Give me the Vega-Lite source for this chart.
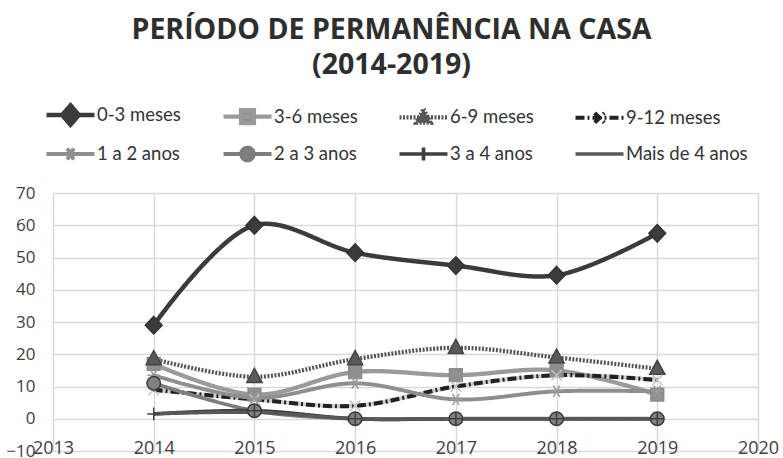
{
  "$schema": "https://vega.github.io/schema/vega-lite/v6.json",
  "width": 705,
  "height": 258,
  "autosize": {"type": "none"},
  "padding": {"left": 53, "top": 193, "right": 25, "bottom": 7},
  "background": "#ffffff",
  "title": {
    "text": ["PERÍODO DE PERMANÊNCIA NA CASA", "(2014-2019)"],
    "font": "Open Sans",
    "fontSize": 28.5,
    "fontWeight": "bold",
    "color": "#2e2e2e",
    "lineHeight": 35,
    "anchor": "middle",
    "frame": "group",
    "dx": -14,
    "offset": 25
  },
  "config": {
    "view": {"stroke": null},
    "axis": {"labelFont": "Open Sans", "labelColor": "#404040", "gridColor": "#d9d9d9", "gridWidth": 1.5}
  },
  "data": {
    "values": [
      {"series": "0-3 meses", "year": 2014, "value": 29},
      {"series": "0-3 meses", "year": 2015, "value": 60},
      {"series": "0-3 meses", "year": 2016, "value": 51.5},
      {"series": "0-3 meses", "year": 2017, "value": 47.5},
      {"series": "0-3 meses", "year": 2018, "value": 44.5},
      {"series": "0-3 meses", "year": 2019, "value": 57.5},
      {"series": "3-6 meses", "year": 2014, "value": 17},
      {"series": "3-6 meses", "year": 2015, "value": 7.5},
      {"series": "3-6 meses", "year": 2016, "value": 14.5},
      {"series": "3-6 meses", "year": 2017, "value": 13.5},
      {"series": "3-6 meses", "year": 2018, "value": 15},
      {"series": "3-6 meses", "year": 2019, "value": 7.5},
      {"series": "6-9 meses", "year": 2014, "value": 18.5},
      {"series": "6-9 meses", "year": 2015, "value": 13},
      {"series": "6-9 meses", "year": 2016, "value": 18.5},
      {"series": "6-9 meses", "year": 2017, "value": 22},
      {"series": "6-9 meses", "year": 2018, "value": 19},
      {"series": "6-9 meses", "year": 2019, "value": 15.5},
      {"series": "9-12 meses", "year": 2014, "value": 9},
      {"series": "9-12 meses", "year": 2015, "value": 6},
      {"series": "9-12 meses", "year": 2016, "value": 4},
      {"series": "9-12 meses", "year": 2017, "value": 10},
      {"series": "9-12 meses", "year": 2018, "value": 13.5},
      {"series": "9-12 meses", "year": 2019, "value": 12},
      {"series": "1 a 2 anos", "year": 2014, "value": 13.5},
      {"series": "1 a 2 anos", "year": 2015, "value": 6.5},
      {"series": "1 a 2 anos", "year": 2016, "value": 11},
      {"series": "1 a 2 anos", "year": 2017, "value": 6},
      {"series": "1 a 2 anos", "year": 2018, "value": 8.5},
      {"series": "1 a 2 anos", "year": 2019, "value": 8.5},
      {"series": "2 a 3 anos", "year": 2014, "value": 11},
      {"series": "2 a 3 anos", "year": 2015, "value": 2.5},
      {"series": "2 a 3 anos", "year": 2016, "value": 0},
      {"series": "2 a 3 anos", "year": 2017, "value": 0},
      {"series": "2 a 3 anos", "year": 2018, "value": 0},
      {"series": "2 a 3 anos", "year": 2019, "value": 0},
      {"series": "3 a 4 anos", "year": 2014, "value": 1.5},
      {"series": "3 a 4 anos", "year": 2015, "value": 2.5},
      {"series": "3 a 4 anos", "year": 2016, "value": 0},
      {"series": "3 a 4 anos", "year": 2017, "value": 0},
      {"series": "3 a 4 anos", "year": 2018, "value": 0},
      {"series": "3 a 4 anos", "year": 2019, "value": 0},
      {"series": "Mais de 4 anos", "year": 2014, "value": 1.5},
      {"series": "Mais de 4 anos", "year": 2015, "value": 2},
      {"series": "Mais de 4 anos", "year": 2016, "value": 0},
      {"series": "Mais de 4 anos", "year": 2017, "value": 0},
      {"series": "Mais de 4 anos", "year": 2018, "value": 0},
      {"series": "Mais de 4 anos", "year": 2019, "value": 0}
    ]
  },
  "encoding": {
    "x": {
      "field": "year", "type": "quantitative",
      "scale": {"domain": [2013, 2020], "nice": false, "zero": false},
      "axis": {
        "title": null, "values": [2013, 2014, 2015, 2016, 2017, 2018, 2019, 2020],
        "format": "d", "grid": true, "domain": false, "ticks": false, "tickSize": 0,
        "labelFontSize": 18, "labelPadding": 20, "offset": -32, "labelFlush": false
      }
    },
    "y": {
      "field": "value", "type": "quantitative",
      "scale": {"domain": [-10, 70], "nice": false},
      "axis": {
        "title": null, "values": [-10, 0, 10, 20, 30, 40, 50, 60, 70],
        "grid": true, "domain": false, "ticks": false, "tickSize": 0,
        "labelFontSize": 17, "labelPadding": 18
      }
    }
  },
  "layer": [
    {
      "transform": [{"filter": "datum.series === '9-12 meses'"}],
      "mark": {"type": "line", "interpolate": "catmull-rom", "stroke": "#cfcfcf", "strokeWidth": 4},
      "encoding": {"detail": {"field": "series"}}
    },
    {
      "mark": {"type": "line", "interpolate": "catmull-rom"},
      "encoding": {
        "color": {
          "field": "series", "type": "nominal",
          "scale": {
            "domain": ["0-3 meses", "3-6 meses", "6-9 meses", "9-12 meses", "1 a 2 anos", "2 a 3 anos", "3 a 4 anos", "Mais de 4 anos"],
            "range": ["#3b3b3b", "#9a9a9a", "#555555", "#222222", "#8e8e8e", "#7d7d7d", "#3e3e3e", "#585858"]
          },
          "legend": {
            "title": null,
            "orient": "none",
            "legendX": -9,
            "legendY": -89,
            "direction": "horizontal",
            "columns": 4,
            "columnPadding": 33,
            "rowPadding": 6,
            "symbolSize": 256,
            "labelOffset": 32,
            "labelFont": "Lato",
            "labelFontSize": 18.5,
            "labelColor": "#333333",
            "encode": {
              "symbols": {
                "update": {
                  "shape": {"signal": "['M-1,0H5M2,-1.2L3.05,0L2,1.2L0.95,0Z','M-1,0H5M1.2,-0.8H2.8V0.8H1.2Z','M-1,0H5M2,-1.05L2.9,0.65H1.1Z','M-1,0H5M1.4,-0.6L2.6,0.6M1.4,0.6L2.6,-0.6','M-1,0H5M1.6,-0.7L2.4,0.7M1.6,0.7L2.4,-0.7','M-1,0H5M1.2,0A0.8,0.8,0,1,0,2.8,0A0.8,0.8,0,1,0,1.2,0Z','M-1,0H5M2,-0.8V0.8','M-1,0H5'][indexof(['0-3 meses','3-6 meses','6-9 meses','9-12 meses','1 a 2 anos','2 a 3 anos','3 a 4 anos','Mais de 4 anos'], datum.value)]"},
                  "fill": {"signal": "['#3b3b3b','#8f8f8f','#5a5a5a','transparent','transparent','#808080','transparent','transparent'][indexof(['0-3 meses','3-6 meses','6-9 meses','9-12 meses','1 a 2 anos','2 a 3 anos','3 a 4 anos','Mais de 4 anos'], datum.value)]"},
                  "stroke": {"signal": "['#3b3b3b','#9a9a9a','#555555','#222222','#8e8e8e','#8a8a8a','#3e3e3e','#585858'][indexof(['0-3 meses','3-6 meses','6-9 meses','9-12 meses','1 a 2 anos','2 a 3 anos','3 a 4 anos','Mais de 4 anos'], datum.value)]"},
                  "strokeWidth": {"signal": "[5,4,4,3,4,4,4,4.5][indexof(['0-3 meses','3-6 meses','6-9 meses','9-12 meses','1 a 2 anos','2 a 3 anos','3 a 4 anos','Mais de 4 anos'], datum.value)]"},
                  "strokeDash": {"signal": "[[1,0],[1,0],[2,1.5],[8,3,2,3],[1,0],[1,0],[1,0],[1,0]][indexof(['0-3 meses','3-6 meses','6-9 meses','9-12 meses','1 a 2 anos','2 a 3 anos','3 a 4 anos','Mais de 4 anos'], datum.value)]"},
                  "size": {"value": 256},
                  "opacity": {"value": 1}
                }
              }
            }
          }
        },
        "strokeDash": {
          "field": "series", "type": "nominal", "legend": null,
          "scale": {
            "domain": ["0-3 meses", "3-6 meses", "6-9 meses", "9-12 meses", "1 a 2 anos", "2 a 3 anos", "3 a 4 anos", "Mais de 4 anos"],
            "range": [[1, 0], [1, 0], [2, 1.5], [9, 3, 2, 3], [1, 0], [1, 0], [1, 0], [1, 0]]
          }
        },
        "strokeWidth": {
          "field": "series", "type": "nominal", "legend": null,
          "scale": {
            "domain": ["0-3 meses", "3-6 meses", "6-9 meses", "9-12 meses", "1 a 2 anos", "2 a 3 anos", "3 a 4 anos", "Mais de 4 anos"],
            "range": [4.5, 3.5, 3.5, 2.2, 3.5, 3.5, 3.5, 4]
          }
        }
      }
    },
    {
      "transform": [{"filter": "datum.series !== 'Mais de 4 anos'"}],
      "mark": {"type": "point", "size": 256, "opacity": 1, "strokeWidth": 1.5},
      "encoding": {
        "shape": {
          "field": "series", "type": "nominal", "legend": null,
          "scale": {
            "domain": ["0-3 meses", "3-6 meses", "6-9 meses", "9-12 meses", "1 a 2 anos", "2 a 3 anos", "3 a 4 anos"],
            "range": [
              "M0,-1.1L1.05,0L0,1.1L-1.05,0Z",
              "M-0.8,-0.8H0.8V0.8H-0.8Z",
              "M0,-1.05L0.95,0.7H-0.95Z",
              "M-0.65,-0.65L0.65,0.65M-0.65,0.65L0.65,-0.65",
              "M-0.8,0H0.8M-0.4,-0.7L0.4,0.7M-0.4,0.7L0.4,-0.7",
              "M-0.85,0A0.85,0.85,0,1,0,0.85,0A0.85,0.85,0,1,0,-0.85,0Z",
              "M0,-0.8V0.8M-0.8,0H0.8"
            ]
          }
        },
        "fill": {
          "field": "series", "type": "nominal", "legend": null,
          "scale": {
            "domain": ["0-3 meses", "3-6 meses", "6-9 meses", "9-12 meses", "1 a 2 anos", "2 a 3 anos", "3 a 4 anos"],
            "range": ["#3b3b3b", "#8f8f8f", "#5a5a5a", "transparent", "transparent", "#808080", "transparent"]
          }
        },
        "stroke": {
          "field": "series", "type": "nominal", "legend": null,
          "scale": {
            "domain": ["0-3 meses", "3-6 meses", "6-9 meses", "9-12 meses", "1 a 2 anos", "2 a 3 anos", "3 a 4 anos"],
            "range": ["#333333", "#8a8a8a", "#444444", "#c4c4c4", "#9a9a9a", "#3a3a3a", "#3e3e3e"]
          }
        }
      }
    }
  ]
}
